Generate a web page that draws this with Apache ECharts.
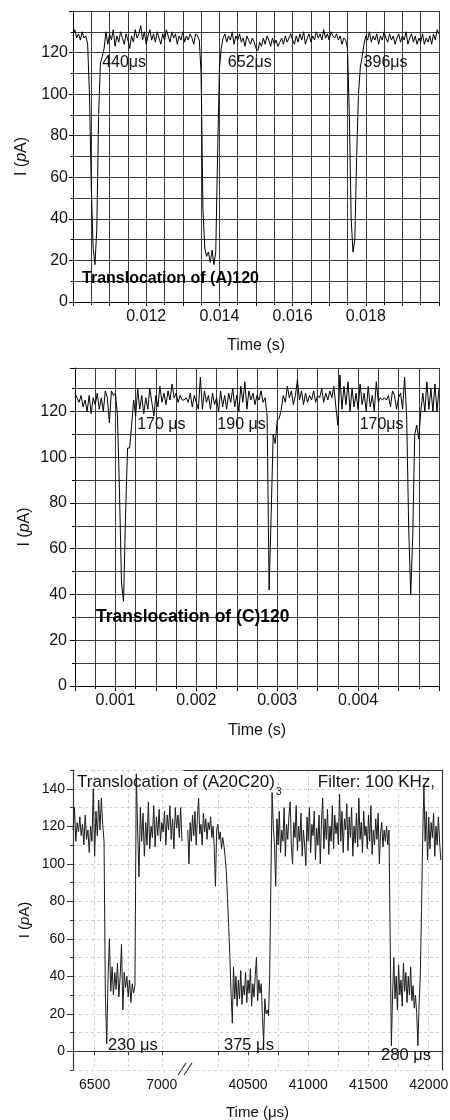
<!DOCTYPE html>
<html><head><meta charset="utf-8">
<script src="https://cdn.jsdelivr.net/npm/echarts@6/dist/echarts.min.js"></script>
<style>html,body{margin:0;padding:0;background:#fff}#c{width:450px;height:1120px}</style>
</head><body><div id="c"></div>
<script>
// ---------- DATA ----------
// Panel A: (A)120, sampled every 50 µs from 0.010 s
const p1Start = 0.010, p1Step = 0.00005;
const p1Current = [
128,131,127,129,126,130,127,128,124,100,55,26,18,35,90,115,118,122,130,124,
129,126,131,123,128,125,130,127,124,129,126,122,128,125,131,127,129,133,126,130,
124,128,131,126,129,125,130,127,124,129,126,131,128,125,130,127,129,124,128,126,
130,125,128,126,129,127,124,129,128,126,110,45,26,22,24,19,25,18,24,70,
112,122,127,129,125,128,126,130,124,128,126,129,125,127,123,128,126,124,127,125,
122,121,125,123,127,124,128,126,123,127,124,126,123,125,127,124,128,125,127,129,
126,124,128,125,129,126,130,124,127,129,125,128,126,130,127,129,126,131,127,129,
126,130,128,127,129,126,128,124,127,126,122,90,40,24,30,70,100,113,118,124,
128,126,130,125,128,126,129,124,128,126,130,127,125,129,126,128,124,127,129,125,
128,126,130,124,127,129,125,128,124,127,125,129,124,127,125,128,124,129,126,131,129];
const p1Labels = ['440μs','652μs','396μs'];
const p1LabelTimes = [0.010797, 0.014231, 0.017940];
const p1Title = 'Translocation of (A)120';

// Panel C: (C)120, sampled every 25 µs from 0.0005 s
const p2Start = 0.0005, p2Step = 0.000025;
const p2Current = [
128,126,124,127,122,125,120,127,119,126,123,128,121,126,120,129,126,115,129,127,
128,118,85,45,37,75,104,104,114,125,118,130,121,127,119,126,121,130,124,118,
127,122,131,124,128,123,129,125,132,126,128,124,127,125,125,126,124,128,122,127,
124,121,135,121,129,124,127,121,128,123,126,120,129,122,127,121,128,124,130,122,
127,120,131,124,133,121,129,125,128,123,127,125,129,124,126,118,42,75,110,106,
116,117,121,127,124,131,126,129,123,127,134,125,129,123,128,124,127,125,129,124,
127,126,130,124,128,125,129,126,131,122,114,136,121,131,123,133,120,130,122,128,
121,132,123,128,120,131,122,127,120,133,124,126,125,126,125,127,122,129,127,121,
126,128,121,135,118,70,40,65,110,114,108,120,128,120,133,121,130,120,132,120,130];
const p2Labels = ['170 μs','190 μs','170μs'];
const p2LabelTimes = [0.0012683, 0.0022596, 0.0040192];
const p2Title = 'Translocation of (C)120';

// Panel (A20C20)3: broken time axis, sampled every 10 µs
const p3aStart = 6340, p3aStep = 10;
const p3aCurrent = [
118,130,112,122,117,125,115,121,110,126,113,118,106,120,112,140,104,128,115,134,
118,135,121,112,30,4,40,60,32,45,30,42,33,47,29,40,57,22,42,34,
40,29,38,26,36,31,35,148,118,93,130,112,127,104,122,110,133,108,120,114,
131,109,125,115,129,112,122,117,128,110,126,118,131,113,124,108,130,119,126,114,
130,112];
const p3bStart = 40000, p3bStep = 10;
const p3bCurrent = [
118,100,122,112,126,115,128,110,124,135,116,121,110,127,117,124,113,122,118,125,
114,120,109,88,118,121,113,117,108,114,110,104,96,82,66,50,30,15,45,28,
40,24,38,28,43,25,35,30,42,26,38,31,44,24,36,29,40,50,27,38,
31,36,18,5,28,20,22,19,40,90,138,120,110,88,124,110,128,106,118,112,
130,104,121,113,126,133,109,100,122,114,131,107,120,112,127,104,118,110,99,125,
112,130,106,121,115,128,102,119,110,126,100,123,135,108,124,113,129,105,120,112,
131,108,126,116,122,110,137,112,128,106,124,118,132,107,125,114,130,104,120,111,
127,109,135,113,122,106,128,115,120,108,126,112,131,105,118,110,124,113,127,100,
116,122,109,118,112,120,110,118,60,3,30,50,28,40,22,46,30,38,24,47,
32,42,26,40,30,45,27,35,23,30,20,3,25,40,75,115,142,112,128,102,
125,108,122,114,127,104,120,110,125,112,102];
const p3Labels = ['230 μs','375 μs','280 μs'];
const p3Title = 'Translocation of (A20C20)';
const p3Sub = '3';
const p3Filter = 'Filter: 100 KHz,';

// tick labels
const p1XTicks = [0.012, 0.014, 0.016, 0.018];
const p2XTicks = [0.001, 0.002, 0.003, 0.004];
const yTicks12 = [0, 20, 40, 60, 80, 100, 120];
const p3aXTicks = [6500, 6750, 7000];
const p3aXLabels = [6500, 7000];
const p3bXTicks = [40250, 40500, 40750, 41000, 41250, 41500, 41750, 42000];
const p3bXLabels = [40500, 41000, 41500, 42000];
const p3YLabels = [0, 20, 40, 60, 80, 100, 120, 140];

// ---------- BUILD ----------
const FONT = "'Liberation Sans', Arial, Helvetica, sans-serif";
function pairs(start, step, vals) { return vals.map((v, i) => [start + i * step, v]); }

const chart = echarts.init(document.getElementById('c'), null, {renderer: 'canvas'});

const darkGrid = {show: true, lineStyle: {color: '#3a3a3a', width: 1}};
const dashGrid = {show: true, lineStyle: {color: '#cfcfcf', width: 1, type: [3, 3]}};
const black = {color: '#000', width: 1};
const lbl = (size) => ({color: '#111', fontSize: size, fontFamily: FONT});

function yName(size) {
  return {
    fontSize: size, fontFamily: FONT, color: '#111',
    rich: {it: {fontStyle: 'italic', fontSize: size, fontFamily: FONT, color: '#111'}}
  };
}

function textMark(coord, text, opts) {
  return Object.assign({
    coord: coord, symbolSize: 0,
    label: Object.assign({show: true, position: 'right', distance: 0, formatter: text,
      color: '#111', fontFamily: FONT, fontSize: 16}, opts || {})
  });
}

const option = {
  animation: false,
  backgroundColor: '#fff',
  grid: [
    {left: 73, top: 11, width: 366, height: 291, outerBoundsMode: 'none', containLabel: false},
    {left: 75, top: 368, width: 364, height: 318, outerBoundsMode: 'none', containLabel: false},
    {left: 73, top: 770, width: 111, height: 300, outerBoundsMode: 'none', containLabel: false},
    {left: 184, top: 770, width: 258, height: 300, outerBoundsMode: 'none', containLabel: false}
  ],
  xAxis: [
    {gridIndex: 0, type: 'value', position: 'bottom', min: 0.010, max: 0.020, interval: 0.001,
      axisLine: {show: true, lineStyle: black}, axisTick: {show: true, inside: false, length: 4, lineStyle: black},
      minorTick: {show: true, splitNumber: 2, length: 3, lineStyle: black},
      splitLine: darkGrid, minorSplitLine: darkGrid,
      axisLabel: Object.assign(lbl(16), {margin: 7, showMinLabel: true, showMaxLabel: true,
        formatter: v => { const f = p1XTicks.find(t => Math.abs(t - v) < 1e-7); return f ? f.toFixed(3) : ''; }}),
      name: 'Time (s)', nameLocation: 'middle', nameGap: 36, nameMoveOverlap: false,
      nameTextStyle: {fontSize: 16, fontFamily: FONT, color: '#111'}},
    {gridIndex: 1, type: 'value', position: 'bottom', min: 0.0005, max: 0.005, interval: 0.0005,
      axisLine: {show: true, lineStyle: black}, axisTick: {show: true, length: 5, lineStyle: black},
      minorTick: {show: true, splitNumber: 2, length: 3, lineStyle: black},
      splitLine: darkGrid, minorSplitLine: darkGrid,
      axisLabel: Object.assign(lbl(16), {margin: 7,
        formatter: v => { const f = p2XTicks.find(t => Math.abs(t - v) < 1e-8); return f ? f.toFixed(3) : ''; }}),
      name: 'Time (s)', nameLocation: 'middle', nameGap: 37, nameMoveOverlap: false,
      nameTextStyle: {fontSize: 16, fontFamily: FONT, color: '#111'}},
    {gridIndex: 2, type: 'value', position: 'bottom', min: 6339, max: 7165,
      axisLine: {show: true, lineStyle: {color: '#333', width: 1.2}},
      axisTick: {show: true, length: 4, customValues: p3aXTicks, lineStyle: {color: '#333'}},
      axisLabel: Object.assign(lbl(14), {margin: 8, customValues: p3aXLabels, formatter: v => String(v)}),
      splitLine: dashGrid},
    {gridIndex: 2, type: 'value', position: 'top', min: 6339, max: 7165,
      axisLine: {show: true, lineStyle: {color: '#333', width: 1.2}},
      axisTick: {show: false}, axisLabel: {show: false}, splitLine: {show: false}},
    {gridIndex: 3, type: 'value', position: 'bottom', min: 39969, max: 42110,
      axisLine: {show: true, lineStyle: {color: '#333', width: 1.2}},
      axisTick: {show: true, length: 4, customValues: p3bXTicks, lineStyle: {color: '#333'}},
      axisLabel: Object.assign(lbl(14), {margin: 8, customValues: p3bXLabels, formatter: v => String(v)}),
      splitLine: dashGrid},
    {gridIndex: 3, type: 'value', position: 'top', min: 39969, max: 42110,
      axisLine: {show: true, lineStyle: {color: '#333', width: 1.2}},
      axisTick: {show: false}, axisLabel: {show: false}, splitLine: {show: false}}
  ],
  yAxis: [
    {gridIndex: 0, type: 'value', position: 'left', min: 0, max: 140, interval: 20,
      axisLine: {show: true, lineStyle: black}, axisTick: {show: true, length: 4, lineStyle: black},
      minorTick: {show: true, splitNumber: 2, length: 2.5, lineStyle: black},
      splitLine: darkGrid, minorSplitLine: darkGrid,
      axisLabel: Object.assign(lbl(16), {margin: 5, formatter: v => yTicks12.includes(v) ? String(v) : ''}),
      name: 'I ({it|p}A)', nameLocation: 'middle', nameGap: 43, nameMoveOverlap: false, nameTextStyle: yName(16)},
    {gridIndex: 1, type: 'value', position: 'left', min: 0, max: 139, interval: 20,
      axisLine: {show: true, lineStyle: black}, axisTick: {show: true, length: 5, lineStyle: black},
      minorTick: {show: true, splitNumber: 2, length: 3, lineStyle: black},
      splitLine: darkGrid, minorSplitLine: darkGrid,
      axisLabel: Object.assign(lbl(16), {margin: 8, formatter: v => yTicks12.includes(v) ? String(v) : ''}),
      name: 'I ({it|p}A)', nameLocation: 'middle', nameGap: 42, nameMoveOverlap: false, nameTextStyle: yName(16)},
    {gridIndex: 2, type: 'value', position: 'left', min: -10, max: 150, interval: 10,
      axisLine: {show: true, lineStyle: {color: '#333', width: 1.2}},
      axisTick: {show: true, length: 3, lineStyle: {color: '#333'}},
      axisLabel: {show: false}, splitLine: dashGrid,
      name: 'I ({it|p}A)', nameLocation: 'middle', nameGap: 41, nameMoveOverlap: false, nameTextStyle: yName(15)},
    {gridIndex: 2, type: 'value', position: 'left', min: -10, max: 150,
      axisLine: {show: false},
      axisTick: {show: true, length: 6, customValues: p3YLabels, lineStyle: {color: '#333'}},
      axisLabel: Object.assign(lbl(14), {margin: 8, customValues: p3YLabels, formatter: v => String(v)}),
      splitLine: {show: false}},
    {gridIndex: 3, type: 'value', position: 'right', min: -10, max: 150, interval: 10,
      axisLine: {show: true, lineStyle: {color: '#333', width: 1.2}},
      axisTick: {show: false}, axisLabel: {show: false}, splitLine: dashGrid}
  ],
  series: [
    {type: 'line', xAxisIndex: 0, yAxisIndex: 0, data: pairs(p1Start, p1Step, p1Current),
      showSymbol: false, symbol: 'none', lineStyle: {color: '#000', width: 1}, silent: true, z: 5,
      markPoint: {symbol: 'circle', symbolSize: 0, silent: true, data: [
        textMark([p1LabelTimes[0], 115.4], p1Labels[0]),
        textMark([p1LabelTimes[1], 115.4], p1Labels[1]),
        textMark([p1LabelTimes[2], 115.4], p1Labels[2]),
        textMark([0.010247, 11.2], p1Title, {fontWeight: 'bold', fontSize: 16, color: '#000'})
      ]}},
    {type: 'line', xAxisIndex: 1, yAxisIndex: 1, data: pairs(p2Start, p2Step, p2Current),
      showSymbol: false, symbol: 'none', lineStyle: {color: '#000', width: 1}, silent: true, z: 5,
      markPoint: {symbol: 'circle', symbolSize: 0, silent: true, data: [
        textMark([p2LabelTimes[0], 114.3], p2Labels[0]),
        textMark([p2LabelTimes[1], 114.3], p2Labels[1]),
        textMark([p2LabelTimes[2], 114.3], p2Labels[2]),
        textMark([0.00076, 30.0], p2Title, {fontWeight: 'bold', fontSize: 17.5, color: '#000'})
      ]}},
    {type: 'line', xAxisIndex: 2, yAxisIndex: 2, data: pairs(p3aStart, p3aStep, p3aCurrent),
      showSymbol: false, symbol: 'none', lineStyle: {color: '#1a1a1a', width: 1}, silent: true, z: 5,
      markPoint: {symbol: 'circle', symbolSize: 0, silent: true, data: [
        textMark([6369, 143.4], p3Title, {fontSize: 17}),
        textMark([6599, 3.2], p3Labels[0], {fontSize: 16.5})
      ]}},
    {type: 'line', xAxisIndex: 4, yAxisIndex: 4, data: pairs(p3bStart, p3bStep, p3bCurrent),
      showSymbol: false, symbol: 'none', lineStyle: {color: '#1a1a1a', width: 1}, silent: true, z: 5,
      markPoint: {symbol: 'circle', symbolSize: 0, silent: true, data: [
        textMark([40732, 138], p3Sub, {fontSize: 10}),
        textMark([42052, 143.4], p3Filter, {fontSize: 17, position: 'left'}),
        textMark([40301, 3.2], p3Labels[1], {fontSize: 16.5}),
        textMark([41604, -2.1], p3Labels[2], {fontSize: 16.5})
      ]}}
  ],
  graphic: [
    {type: 'text', x: 257.5, y: 1113, silent: true,
      style: {text: 'Time (μs)', fontSize: 15, fontFamily: FONT, fill: '#111', align: 'center', verticalAlign: 'middle'}},
    {type: 'line', silent: true, shape: {x1: 178, y1: 1075, x2: 186, y2: 1063}, style: {stroke: '#333', lineWidth: 1.2}},
    {type: 'line', silent: true, shape: {x1: 184, y1: 1075, x2: 192, y2: 1063}, style: {stroke: '#333', lineWidth: 1.2}}
  ]
};
chart.setOption(option);
</script></body></html>
